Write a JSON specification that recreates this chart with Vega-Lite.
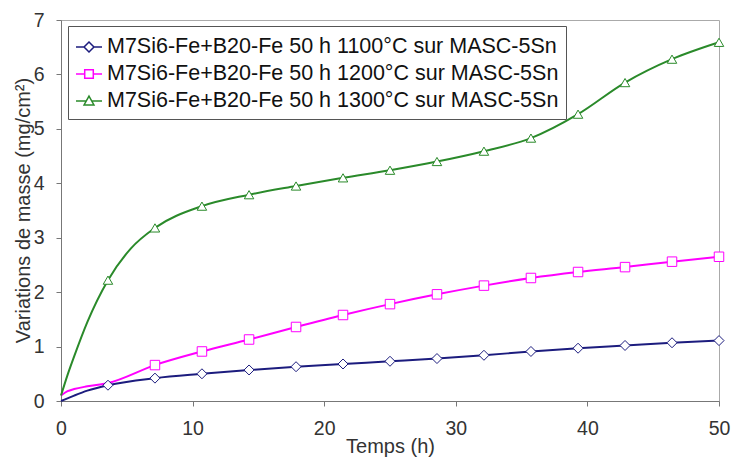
{
  "$schema": "https://vega.github.io/schema/vega-lite/v6.json",
  "width": 658,
  "height": 381,
  "autosize": {"type": "none"},
  "padding": {"left": 61, "top": 20, "right": 12, "bottom": 58},
  "background": "white",
  "config": {
    "view": {"stroke": "#aaaaaa", "strokeWidth": 1},
    "font": "Liberation Sans",
    "axis": {"grid": false, "labelFlush": false, "domainColor": "#777777", "tickColor": "#777777", "labelColor": "#333333", "titleColor": "#333333", "labelFont": "Liberation Sans", "titleFont": "Liberation Sans", "titleFontWeight": "normal", "labelFontSize": 19.5, "titleFontSize": 20, "tickSize": 5},
    "legend": {"title": null, "orient": "none", "legendX": 7, "legendY": 6, "padding": 7, "strokeColor": "#555555", "fillColor": "white", "labelFont": "Liberation Sans", "labelFontSize": 21.5, "labelColor": "#111111", "labelLimit": 600, "labelOffset": 4, "symbolSize": 676, "symbolStrokeWidth": 1.5, "symbolFillColor": "white", "symbolOpacity": 1, "rowPadding": 2}
  },
  "data": {
    "values": [
      {"t": 0, "v": 0.0, "s": "M7Si6-Fe+B20-Fe 50 h 1100°C sur MASC-5Sn", "m": 0},
      {"t": 1, "v": 0.1, "s": "M7Si6-Fe+B20-Fe 50 h 1100°C sur MASC-5Sn", "m": 0},
      {"t": 2, "v": 0.19, "s": "M7Si6-Fe+B20-Fe 50 h 1100°C sur MASC-5Sn", "m": 0},
      {"t": 3.57, "v": 0.29, "s": "M7Si6-Fe+B20-Fe 50 h 1100°C sur MASC-5Sn", "m": 1},
      {"t": 7.14, "v": 0.42, "s": "M7Si6-Fe+B20-Fe 50 h 1100°C sur MASC-5Sn", "m": 1},
      {"t": 10.71, "v": 0.5, "s": "M7Si6-Fe+B20-Fe 50 h 1100°C sur MASC-5Sn", "m": 1},
      {"t": 14.29, "v": 0.57, "s": "M7Si6-Fe+B20-Fe 50 h 1100°C sur MASC-5Sn", "m": 1},
      {"t": 17.86, "v": 0.63, "s": "M7Si6-Fe+B20-Fe 50 h 1100°C sur MASC-5Sn", "m": 1},
      {"t": 21.43, "v": 0.68, "s": "M7Si6-Fe+B20-Fe 50 h 1100°C sur MASC-5Sn", "m": 1},
      {"t": 25, "v": 0.73, "s": "M7Si6-Fe+B20-Fe 50 h 1100°C sur MASC-5Sn", "m": 1},
      {"t": 28.57, "v": 0.78, "s": "M7Si6-Fe+B20-Fe 50 h 1100°C sur MASC-5Sn", "m": 1},
      {"t": 32.14, "v": 0.84, "s": "M7Si6-Fe+B20-Fe 50 h 1100°C sur MASC-5Sn", "m": 1},
      {"t": 35.71, "v": 0.91, "s": "M7Si6-Fe+B20-Fe 50 h 1100°C sur MASC-5Sn", "m": 1},
      {"t": 39.29, "v": 0.97, "s": "M7Si6-Fe+B20-Fe 50 h 1100°C sur MASC-5Sn", "m": 1},
      {"t": 42.86, "v": 1.02, "s": "M7Si6-Fe+B20-Fe 50 h 1100°C sur MASC-5Sn", "m": 1},
      {"t": 46.43, "v": 1.07, "s": "M7Si6-Fe+B20-Fe 50 h 1100°C sur MASC-5Sn", "m": 1},
      {"t": 50, "v": 1.11, "s": "M7Si6-Fe+B20-Fe 50 h 1100°C sur MASC-5Sn", "m": 1},
      {"t": 0, "v": 0.1, "s": "M7Si6-Fe+B20-Fe 50 h 1200°C sur MASC-5Sn", "m": 0},
      {"t": 0.5, "v": 0.18, "s": "M7Si6-Fe+B20-Fe 50 h 1200°C sur MASC-5Sn", "m": 0},
      {"t": 1, "v": 0.22, "s": "M7Si6-Fe+B20-Fe 50 h 1200°C sur MASC-5Sn", "m": 0},
      {"t": 2, "v": 0.27, "s": "M7Si6-Fe+B20-Fe 50 h 1200°C sur MASC-5Sn", "m": 0},
      {"t": 3.57, "v": 0.33, "s": "M7Si6-Fe+B20-Fe 50 h 1200°C sur MASC-5Sn", "m": 0},
      {"t": 7.14, "v": 0.66, "s": "M7Si6-Fe+B20-Fe 50 h 1200°C sur MASC-5Sn", "m": 1},
      {"t": 10.71, "v": 0.91, "s": "M7Si6-Fe+B20-Fe 50 h 1200°C sur MASC-5Sn", "m": 1},
      {"t": 14.29, "v": 1.13, "s": "M7Si6-Fe+B20-Fe 50 h 1200°C sur MASC-5Sn", "m": 1},
      {"t": 17.86, "v": 1.36, "s": "M7Si6-Fe+B20-Fe 50 h 1200°C sur MASC-5Sn", "m": 1},
      {"t": 21.43, "v": 1.58, "s": "M7Si6-Fe+B20-Fe 50 h 1200°C sur MASC-5Sn", "m": 1},
      {"t": 25, "v": 1.78, "s": "M7Si6-Fe+B20-Fe 50 h 1200°C sur MASC-5Sn", "m": 1},
      {"t": 28.57, "v": 1.96, "s": "M7Si6-Fe+B20-Fe 50 h 1200°C sur MASC-5Sn", "m": 1},
      {"t": 32.14, "v": 2.12, "s": "M7Si6-Fe+B20-Fe 50 h 1200°C sur MASC-5Sn", "m": 1},
      {"t": 35.71, "v": 2.26, "s": "M7Si6-Fe+B20-Fe 50 h 1200°C sur MASC-5Sn", "m": 1},
      {"t": 39.29, "v": 2.37, "s": "M7Si6-Fe+B20-Fe 50 h 1200°C sur MASC-5Sn", "m": 1},
      {"t": 42.86, "v": 2.46, "s": "M7Si6-Fe+B20-Fe 50 h 1200°C sur MASC-5Sn", "m": 1},
      {"t": 46.43, "v": 2.56, "s": "M7Si6-Fe+B20-Fe 50 h 1200°C sur MASC-5Sn", "m": 1},
      {"t": 50, "v": 2.65, "s": "M7Si6-Fe+B20-Fe 50 h 1200°C sur MASC-5Sn", "m": 1},
      {"t": 0, "v": 0.1, "s": "M7Si6-Fe+B20-Fe 50 h 1300°C sur MASC-5Sn", "m": 0},
      {"t": 0.5, "v": 0.48, "s": "M7Si6-Fe+B20-Fe 50 h 1300°C sur MASC-5Sn", "m": 0},
      {"t": 1, "v": 0.82, "s": "M7Si6-Fe+B20-Fe 50 h 1300°C sur MASC-5Sn", "m": 0},
      {"t": 2, "v": 1.45, "s": "M7Si6-Fe+B20-Fe 50 h 1300°C sur MASC-5Sn", "m": 0},
      {"t": 3.57, "v": 2.22, "s": "M7Si6-Fe+B20-Fe 50 h 1300°C sur MASC-5Sn", "m": 1},
      {"t": 5.3, "v": 2.8, "s": "M7Si6-Fe+B20-Fe 50 h 1300°C sur MASC-5Sn", "m": 0},
      {"t": 7.14, "v": 3.18, "s": "M7Si6-Fe+B20-Fe 50 h 1300°C sur MASC-5Sn", "m": 1},
      {"t": 10.71, "v": 3.58, "s": "M7Si6-Fe+B20-Fe 50 h 1300°C sur MASC-5Sn", "m": 1},
      {"t": 14.29, "v": 3.79, "s": "M7Si6-Fe+B20-Fe 50 h 1300°C sur MASC-5Sn", "m": 1},
      {"t": 17.86, "v": 3.95, "s": "M7Si6-Fe+B20-Fe 50 h 1300°C sur MASC-5Sn", "m": 1},
      {"t": 21.43, "v": 4.1, "s": "M7Si6-Fe+B20-Fe 50 h 1300°C sur MASC-5Sn", "m": 1},
      {"t": 25, "v": 4.24, "s": "M7Si6-Fe+B20-Fe 50 h 1300°C sur MASC-5Sn", "m": 1},
      {"t": 28.57, "v": 4.4, "s": "M7Si6-Fe+B20-Fe 50 h 1300°C sur MASC-5Sn", "m": 1},
      {"t": 32.14, "v": 4.59, "s": "M7Si6-Fe+B20-Fe 50 h 1300°C sur MASC-5Sn", "m": 1},
      {"t": 35.71, "v": 4.83, "s": "M7Si6-Fe+B20-Fe 50 h 1300°C sur MASC-5Sn", "m": 1},
      {"t": 39.29, "v": 5.27, "s": "M7Si6-Fe+B20-Fe 50 h 1300°C sur MASC-5Sn", "m": 1},
      {"t": 42.86, "v": 5.85, "s": "M7Si6-Fe+B20-Fe 50 h 1300°C sur MASC-5Sn", "m": 1},
      {"t": 46.43, "v": 6.28, "s": "M7Si6-Fe+B20-Fe 50 h 1300°C sur MASC-5Sn", "m": 1},
      {"t": 50, "v": 6.59, "s": "M7Si6-Fe+B20-Fe 50 h 1300°C sur MASC-5Sn", "m": 1}
    ]
  },
  "encoding": {
    "x": {"field": "t", "type": "quantitative", "scale": {"domain": [0, 50], "nice": false},
      "axis": {"values": [0, 10, 20, 30, 40, 50], "title": "Temps (h)", "labelPadding": 13, "titleBaseline": "middle", "titleY": 45, "titleX": 329}},
    "y": {"field": "v", "type": "quantitative", "scale": {"domain": [0, 7], "nice": false},
      "axis": {"values": [0, 1, 2, 3, 4, 5, 6, 7], "title": "Variations de masse (mg/cm²)", "labelPadding": 12, "titleAngle": -90, "titleBaseline": "middle", "titleAlign": "center", "titleX": -38, "titleY": 190}},
    "stroke": {"field": "s", "type": "nominal",
      "scale": {"domain": ["M7Si6-Fe+B20-Fe 50 h 1100°C sur MASC-5Sn", "M7Si6-Fe+B20-Fe 50 h 1200°C sur MASC-5Sn", "M7Si6-Fe+B20-Fe 50 h 1300°C sur MASC-5Sn"], "range": ["#1c1c7e", "#ff00ff", "#2a8a2a"]}}
  },
  "layer": [
    {
      "mark": {"type": "line", "interpolate": "monotone", "strokeWidth": 2}
    },
    {
      "transform": [{"filter": "datum.m == 1 && datum.s == 'M7Si6-Fe+B20-Fe 50 h 1100°C sur MASC-5Sn'"}],
      "mark": {"type": "point", "shape": "diamond", "filled": false, "fill": "white", "fillOpacity": 1, "size": 100, "strokeWidth": 1, "opacity": 1}
    },
    {
      "transform": [{"filter": "datum.m == 1 && datum.s == 'M7Si6-Fe+B20-Fe 50 h 1200°C sur MASC-5Sn'"}],
      "mark": {"type": "point", "shape": "square", "filled": false, "fill": "white", "fillOpacity": 1, "size": 90, "strokeWidth": 1, "opacity": 1}
    },
    {
      "transform": [{"filter": "datum.m == 1 && datum.s == 'M7Si6-Fe+B20-Fe 50 h 1300°C sur MASC-5Sn'"}],
      "mark": {"type": "point", "shape": "triangle-up", "filled": false, "fill": "white", "fillOpacity": 1, "size": 90, "strokeWidth": 1, "opacity": 1}
    },
    {
      "transform": [{"filter": "datum.t == 50"}],
      "mark": {"type": "point", "filled": false, "opacity": 0, "size": 10},
      "encoding": {
        "shape": {"field": "s", "type": "nominal",
          "scale": {"domain": ["M7Si6-Fe+B20-Fe 50 h 1100°C sur MASC-5Sn", "M7Si6-Fe+B20-Fe 50 h 1200°C sur MASC-5Sn", "M7Si6-Fe+B20-Fe 50 h 1300°C sur MASC-5Sn"],
            "range": ["M-1,0L-0.38,0M0.38,0L1,0M0,-0.38L0.38,0L0,0.38L-0.38,0Z", "M-1,0L-0.33,0M0.33,0L1,0M-0.33,-0.33L0.33,-0.33L0.33,0.33L-0.33,0.33Z", "M-1,0L-0.21,0M0.21,0L1,0M0,-0.38L0.38,0.3L-0.38,0.3Z"]}}
      }
    }
  ]
}
